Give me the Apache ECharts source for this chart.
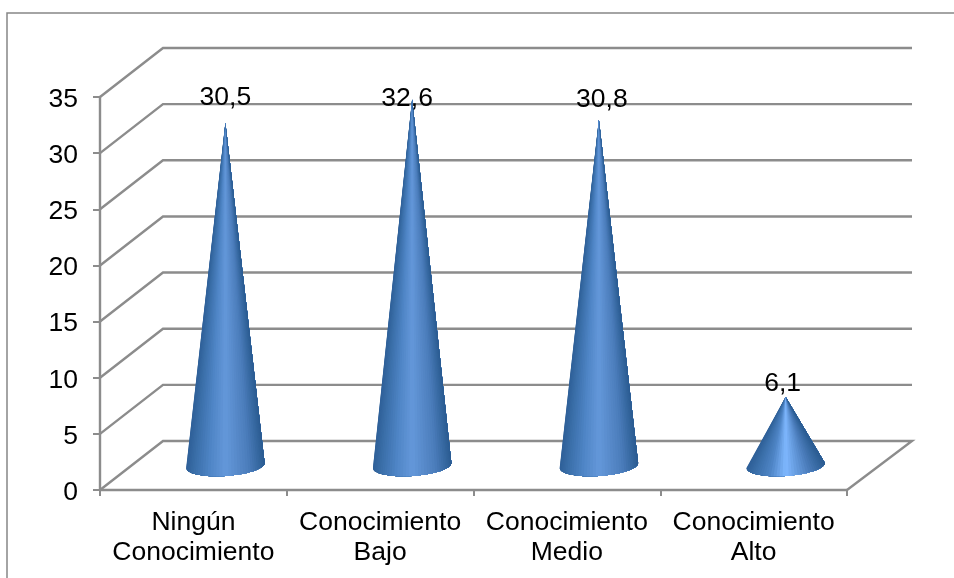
<!DOCTYPE html>
<html>
<head>
<meta charset="utf-8">
<style>
  html, body { margin: 0; padding: 0; background: #fff; }
  #chart { width: 954px; height: 578px; }
</style>
<script src="https://cdn.jsdelivr.net/npm/echarts@6/dist/echarts.min.js"></script>
</head>
<body>
<div id="chart"></div>
<script>
const categories = ['Ningún\nConocimiento', 'Conocimiento\nBajo', 'Conocimiento\nMedio', 'Conocimiento\nAlto'];
const values = [30.5, 32.6, 30.8, 6.1];
const valueLabels = ['30,5', '32,6', '30,8', '6,1'];
const wallTicks = [0, 5, 10, 15, 20, 25, 30, 35];

const LINE = '#8c8c8c';
const FONT = '"Liberation Sans", Arial, sans-serif';

// labels are not at a fixed distance from the tips, so nudge each one (px from cone tip)
const labelNudge = [[0, -25], [-5, -1], [3, -20], [-3, -13]];

function mix(a, b, k) {
  const pa = echarts.color.parse(a), pb = echarts.color.parse(b);
  const c = [0, 1, 2].map(i => Math.round(pa[i] + (pb[i] - pa[i]) * k));
  return 'rgb(' + c.join(',') + ')';
}

function shade(x, hi) {
  const stops = [[0, '#2f6098'], [0.1, '#3a6ea8'], [0.3, '#4f85c6'], [0.5, hi], [0.8, '#4b7dbb'], [1, '#2b5c92']];
  for (let i = 1; i < stops.length; i++) {
    if (x <= stops[i][0]) {
      return mix(stops[i - 1][1], stops[i][1], (x - stops[i - 1][0]) / (stops[i][0] - stops[i - 1][0]));
    }
  }
  return stops[stops.length - 1][1];
}

function renderWall(params, api) {
  const v = api.value(0);
  const box = params.coordSys;
  const front = api.coord([0, v]);
  const x0 = box.x;
  const pts = [[x0, front[1]], [x0 + 63, front[1] - 49], [x0 + box.width + 65, front[1] - 49]];
  if (v === 0) pts.push([x0 + box.width, front[1]]);
  return {
    type: 'polyline',
    shape: { points: pts },
    style: { stroke: LINE, lineWidth: 2.4, fill: null }
  };
}

function renderCone(params, api) {
  const idx = api.value(0);
  const val = api.value(1);
  const band = api.size([1, 0])[0];
  const base = api.coord([idx, 0]);
  const top = api.coord([idx, val]);
  const cx = base[0] + 32, cy = base[1] - 24.5;
  const tip = [top[0] + 32, top[1] - 24.5];
  const a = band * 0.21, b = 10.5;
  const hi = val < 10 ? '#7fb8ff' : '#6498da';
  const n = 40;
  const children = [];
  const arc = t => [cx + a * Math.cos(t), cy - a * 0.064 * Math.cos(t) + b * Math.sin(t)];
  // each slice also covers everything to its right, so no seams show between them
  for (let i = 0; i < n; i++) {
    const pts = [tip];
    for (let j = i; j <= n; j++) pts.push(arc(Math.PI * (1 - j / n)));
    const tm = Math.PI * (1 - (i + 0.5) / n);
    children.push({
      type: 'polygon',
      shape: { points: pts },
      style: { fill: shade((Math.cos(tm) + 1) / 2, hi) }
    });
  }
  const nudge = labelNudge[params.dataIndex];
  children.push({
    type: 'text',
    style: {
      text: valueLabels[params.dataIndex],
      x: tip[0] + nudge[0],
      y: tip[1] + nudge[1],
      align: 'center',
      verticalAlign: 'middle',
      fill: '#000',
      font: '26.5px ' + FONT
    }
  });
  return { type: 'group', children };
}

const chart = echarts.init(document.getElementById('chart'));
chart.setOption({
  animation: false,
  backgroundColor: '#fff',
  graphic: [{
    type: 'rect',
    shape: { x: 7, y: 13, width: 1000, height: 620 },
    style: { fill: null, stroke: '#868686', lineWidth: 1.5 },
    z: 0
  }],
  grid: { left: 100, right: 107, top: 97, bottom: 88 },
  xAxis: {
    type: 'category',
    data: categories,
    axisLine: { lineStyle: { color: LINE, width: 2.4 } },
    axisTick: { show: true, length: 6, lineStyle: { color: LINE, width: 2 } },
    axisLabel: { interval: 0, margin: 18, color: '#000', fontFamily: FONT, fontSize: 26.5, lineHeight: 30 }
  },
  yAxis: {
    type: 'value',
    min: 0,
    max: 35,
    interval: 5,
    splitLine: { show: false },
    axisLine: { show: true, lineStyle: { color: LINE, width: 2.4 } },
    axisTick: { show: true, length: 7, lineStyle: { color: LINE, width: 2 } },
    axisLabel: {
      margin: 22,
      color: '#000',
      fontFamily: FONT,
      fontSize: 26.5,
      formatter: '{a|{value}}',
      rich: { a: { fontFamily: FONT, fontSize: 26.5, color: '#000', padding: [5, 0, 0, 0] } }
    }
  },
  series: [
    {
      type: 'custom',
      data: wallTicks.map(v => [v]),
      encode: { y: 0 },
      renderItem: renderWall,
      silent: true,
      z: 1
    },
    {
      type: 'custom',
      data: values.map((v, i) => [i, v]),
      encode: { x: 0, y: 1 },
      renderItem: renderCone,
      silent: true,
      z: 3
    }
  ]
});
</script>
</body>
</html>
